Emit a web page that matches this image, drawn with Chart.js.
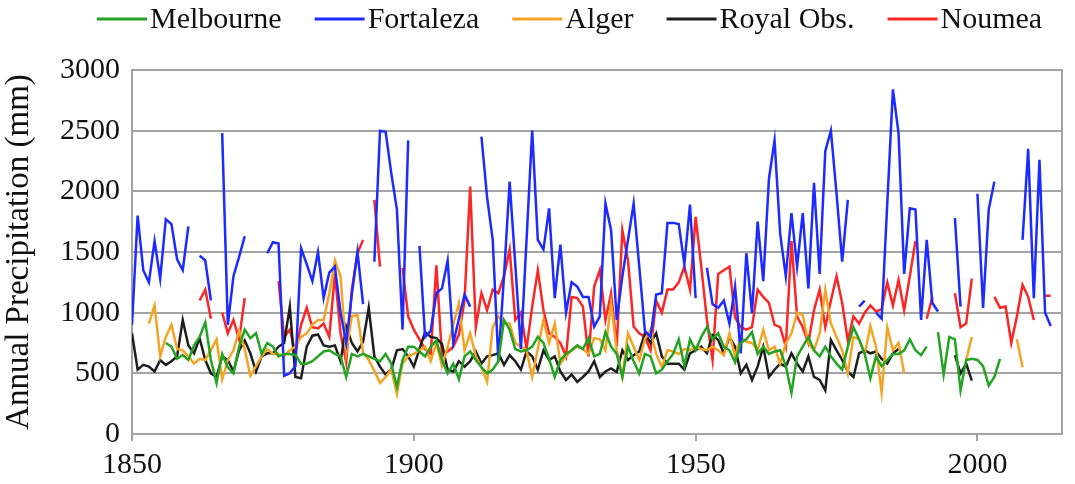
<!DOCTYPE html>
<html>
<head>
<meta charset="utf-8">
<script src="https://cdn.jsdelivr.net/npm/chart.js@4.4.1/dist/chart.umd.min.js"></script>
<style>
  html, body { margin: 0; padding: 0; background: #fff; }
  canvas { display: block; }
</style>
</head>
<body>
<canvas id="rainChart" width="1075" height="484"></canvas>
<script>
// annual precipitation (mm), one value per year, null = no data that year
const seriesNames = ["Melbourne", "Fortaleza", "Alger", "Royal Obs.", "Noumea"];
const xTicks = [1850, 1900, 1950, 2000];
const yTicks = [0, 500, 1000, 1500, 2000, 2500, 3000];

const melbourneStart = 1856;
const melbourne = [
  750, 720, 620, 650, 610, 730, 800, 920, 610, 420,   // 1856-1865
  660, 550, 500, 720, 860, 790, 830, 660, 750, 720,   // 1866-1875
  640, 660, 660, 650, 580, 580, 600, 640, 680, 690,   // 1876-1885
  660, 640, 470, 660, 640, 660, 640, 620, 600, 660,   // 1886-1895
  580, 390, 610, 720, 720, 680, 640, 720, 770, 610,   // 1896-1905
  500, 580, 450, 640, 680, 610, 550, 500, 530, 600,   // 1906-1915
  940, 860, 700, 680, 690, 720, 800, 750, 620, 470,   // 1916-1925
  610, 660, 690, 730, 700, 790, 640, 660, 840, 720,   // 1926-1935
  660, 470, 720, 600, 500, 660, 640, 500, 530, 600,   // 1936-1945
  660, 780, 560, 780, 690, 800, 880, 780, 830, 720,   // 1946-1955
  690, 590, 750, 780, 840, 660, 720, 660, 680, 690,   // 1956-1965
  560, 340, 640, 720, 800, 690, 640, 720, 640, 580,   // 1966-1975
  530, 720, 880, 780, 660, 460, 640, 560, 610, 660,   // 1976-1985
  660, 690, 780, 690, 650, 720, null, 840, 490, 800,  // 1986-1995
  780, 360, 610, 620, 610, 560, 400, 470, 620         // 1996-2004
];

const fortalezaStart = 1850;
const fortaleza = [
  900, 1800, 1350, 1250, 1590, 1280, 1770, 1730, 1440, 1350,     // 1850-1859
  1710, null, 1470, 1430, 1100, null, 2480, 900, 1300, 1460,     // 1860-1869
  1630, null, null, null, 1490, 1580, 1570, 480, 500, 560,       // 1870-1879
  1530, 1400, 1260, 1500, 1120, 1330, 1380, 1000, 750, 1150,     // 1880-1889
  1500, 1070, null, 1420, 2500, 2490, 2150, 1850, 860, 2420,     // 1890-1899
  null, 1550, 800, 850, 1160, 1200, 1430, 750, 950, 1150,        // 1900-1909
  1050, null, 2450, 1950, 1600, 600, 1300, 2080, 1400, 700,      // 1910-1919
  1600, 2500, 1600, 1520, 1860, 1120, 1560, 1000, 1250, 1215,    // 1920-1929
  1130, 1130, 885, 970, 1900, 1680, 940, 1300, 1600, 1900,       // 1930-1939
  1380, 850, 800, 1150, 1160, 1740, 1740, 1730, 1400, 1890,      // 1940-1949
  1120, null, 1370, 1070, 1040, 1100, 910, 1215, 665, 1490,      // 1950-1959
  995, 1750, 1260, 2100, 2420, 1650, 1300, 1820, 1380, 1820,     // 1960-1969
  1200, 2070, 1320, 2330, 2500, 1980, 1420, 1930, null, 1050,    // 1970-1979
  1100, null, 1000, 950, 1900, 2840, 2480, 1320, 1860, 1850,     // 1980-1989
  940, 1600, 1080, 1010, null, null, 1780, 1050, null, null,     // 1990-1999
  1980, 1040, 1850, 2080, null, null, null, null, 1600, 2350,    // 2000-2009
  1120, 2260, 1000, 890                                          // 2010-2013
];

const algerStart = 1850;
const alger = [
  800, null, null, 910, 1060, 640, 800, 900, 700, 690,   // 1850-1859
  640, 580, 620, 610, 690, 780, 450, 610, 690, 850,      // 1860-1869
  700, 480, 560, 640, 700, 660, 660, 640, 690, 720,      // 1870-1879
  800, 830, 900, 940, 940, 1160, 1430, 1300, 670, 970,   // 1880-1889
  980, 670, 610, 520, 420, 470, 530, 330, 580, 640,      // 1890-1899
  660, 690, 720, 600, 750, 560, 720, 900, 1080, 690,     // 1900-1909
  830, 640, 550, 430, 880, 970, 910, 910, 750, 720,      // 1910-1919
  690, 470, 700, 940, 750, 910, 580, 640, 690, 720,      // 1920-1929
  700, 660, 790, 780, 690, 1080, 690, 470, 830, 720,     // 1930-1939
  610, 780, 860, 660, 550, 690, 680, 660, 700, 690,      // 1940-1949
  720, 700, 690, 720, 690, 650, 830, 640, 800, 760,      // 1950-1959
  750, 690, 860, 690, 720, 580, 750, 830, 1000, 980,     // 1960-1969
  750, 690, 830, 1190, 910, 800, 690, 500, 800, 780,     // 1970-1979
  660, 890, 720, 340, 880, 690, 750, 500, null, null,    // 1980-1989
  null, null, null, null, null, null, null, null, 610, 800, // 1990-1999
  null, null, null, null, null, null, null, 780, 550     // 2000-2008
];

const royalObsStart = 1850;
const royalObs = [
  830, 530, 570, 555, 515, 610, 570, 600, 640, 940,      // 1850-1859
  730, 665, 790, 610, 500, 470, 640, 610, 515, 690,      // 1860-1869
  770, 665, 515, 640, 665, 665, 720, 750, 1050, 470,     // 1870-1879
  460, 720, 810, 820, 730, 720, 730, 600, 885, 750,      // 1880-1889
  680, 760, 1040, 640, 555, 490, 530, 690, 700, 640,     // 1890-1899
  555, 700, 840, 800, 790, 740, 530, 515, 600, 555,      // 1900-1909
  600, 680, 580, 640, 650, 665, 570, 650, 600, 530,      // 1910-1919
  680, 640, 530, 690, 610, 640, 515, 445, 490, 430,      // 1920-1929
  470, 515, 600, 470, 515, 540, 510, 690, 610, 650,      // 1930-1939
  680, 830, 750, 830, 640, 580, 580, 580, 530, 665,      // 1940-1949
  690, 720, 665, 815, 775, 665, 800, 720, 500, 570,      // 1950-1959
  445, 555, 720, 470, 530, 580, 555, 665, 580, 515,      // 1960-1969
  640, 470, 445, 360, 775, 690, 610, 515, 470, 665,      // 1970-1979
  690, 665, 680, 620, 580, 665, 700, null, null, null,   // 1980-1989
  null, null, null, null, null, null, 650, 500, 580, 440 // 1990-1999
];

const noumeaStart = 1862;
const noumea = [
  1100, 1190, 950, null, 1000, 830, 940, 780,            // 1862-1869
  1120, null, null, null, null, null, 1260, 800, 860, 670, // 1870-1879
  900, 1040, 880, 870, 910, 800, 1320, 830, 590, 1190,   // 1880-1889
  1490, 1600, null, 1930, 1380, null, null, null, 1370, 970, // 1890-1899
  860, 780, 700, 660, 1390, 640, 680, 720, 820, 1100,    // 1900-1909
  2040, 880, 1160, 1020, 1190, 1160, 1300, 1520, 940, 1000, // 1910-1919
  700, 1050, 1350, 1020, 830, 800, 750, 640, 1130, 1120, // 1920-1929
  1050, 640, 1215, 1350, 940, 1160, 720, 1680, 1430, 885, // 1930-1939
  830, 800, 690, 1100, 1000, 1190, 1190, 1250, 1380, 1190, // 1940-1949
  1790, 1380, 940, 610, 1320, 1350, 1380, 960, 880, 860, // 1950-1959
  880, 1190, 1130, 1080, 900, 880, 720, 1590, 970, 880,  // 1960-1969
  750, 1020, 1190, 880, 1100, 1300, 1080, 770, 970, 910, // 1970-1979
  1000, 1060, 1010, 1030, 1250, 1060, 1270, 1020, 1300, 1590, // 1980-1989
  null, 950, 1130, null, null, null, 1160, 880, 910, 1280, // 1990-1999
  null, null, null, 1130, 1040, 1050, 750, 970, 1230, 1130, // 2000-2009
  940, null, 1140, 1140                                  // 2010-2013
];

const colors = ["#22a322", "#1c2bff", "#f4a425", "#1e1e1e", "#fb2626"];

function toPoints(start, values) {
  return values.map((v, i) => ({ x: start + i, y: v }));
}

const serif = "'Liberation Serif', 'Times New Roman', serif";

// legend drawn as short line samples followed by the name, like the original
const lineLegend = {
  id: 'lineLegend',
  afterDraw(chart) {
    const ctx = chart.ctx;
    ctx.save();
    ctx.font = "30px " + serif;
    ctx.textBaseline = "middle";
    let x = 97;
    const y = 19;
    chart.data.datasets.forEach(ds => {
      ctx.strokeStyle = ds.borderColor;
      ctx.lineWidth = 3;
      ctx.beginPath();
      ctx.moveTo(x, y);
      ctx.lineTo(x + 50, y);
      ctx.stroke();
      ctx.fillStyle = "#111";
      ctx.fillText(ds.label, x + 53, y + 1);
      x += 53 + ctx.measureText(ds.label).width + 33;
    });
    ctx.restore();
  }
};

// grey frame round the plot area
const plotFrame = {
  id: 'plotFrame',
  beforeDatasetsDraw(chart) {
    const a = chart.chartArea;
    const ctx = chart.ctx;
    ctx.save();
    ctx.strokeStyle = "#a3a3a3";
    ctx.lineWidth = 2;
    ctx.strokeRect(a.left, a.top, a.right - a.left, a.bottom - a.top);
    ctx.restore();
  }
};

const datasets = [
  toPoints(melbourneStart, melbourne),
  toPoints(fortalezaStart, fortaleza),
  toPoints(algerStart, alger),
  toPoints(royalObsStart, royalObs),
  toPoints(noumeaStart, noumea)
].map((pts, i) => ({
  label: seriesNames[i],
  data: pts,
  borderColor: colors[i],
  backgroundColor: colors[i],
  borderWidth: 2.5,
  pointRadius: 0,
  tension: 0,
  spanGaps: false
}));

new Chart(document.getElementById("rainChart"), {
  type: "line",
  data: { datasets: datasets },
  plugins: [plotFrame, lineLegend],
  options: {
    responsive: false,
    animation: false,
    layout: { padding: { top: 70, right: 13, left: 0, bottom: 0 } },
    plugins: {
      legend: { display: false },
      tooltip: { enabled: false }
    },
    scales: {
      x: {
        type: "linear",
        min: 1850,
        max: 2015,
        afterBuildTicks: s => { s.ticks = xTicks.map(v => ({ value: v })); },
        afterFit: s => { s.height = 50; },
        ticks: {
          autoSkip: false,
          maxRotation: 0,
          padding: 6,
          color: "#111",
          font: { family: serif, size: 30 },
          callback: v => String(v)
        },
        grid: { drawOnChartArea: false, tickLength: 7, color: "#a3a3a3", lineWidth: 2 },
        border: { color: "#a3a3a3", width: 2 }
      },
      y: {
        min: 0,
        max: 3000,
        afterBuildTicks: s => { s.ticks = yTicks.map(v => ({ value: v })); },
        afterFit: s => { s.width = 132; },
        ticks: {
          padding: 12,
          color: "#111",
          font: { family: serif, size: 30 },
          callback: v => String(v)
        },
        grid: { drawTicks: false, color: "#a3a3a3", lineWidth: 2 },
        border: { color: "#a3a3a3", width: 2 },
        title: {
          display: true,
          text: "Annual Precipitation (mm)",
          color: "#111",
          font: { family: serif, size: 33 },
          padding: { top: 0, bottom: 0 }
        }
      }
    }
  }
});
</script>
</body>
</html>
